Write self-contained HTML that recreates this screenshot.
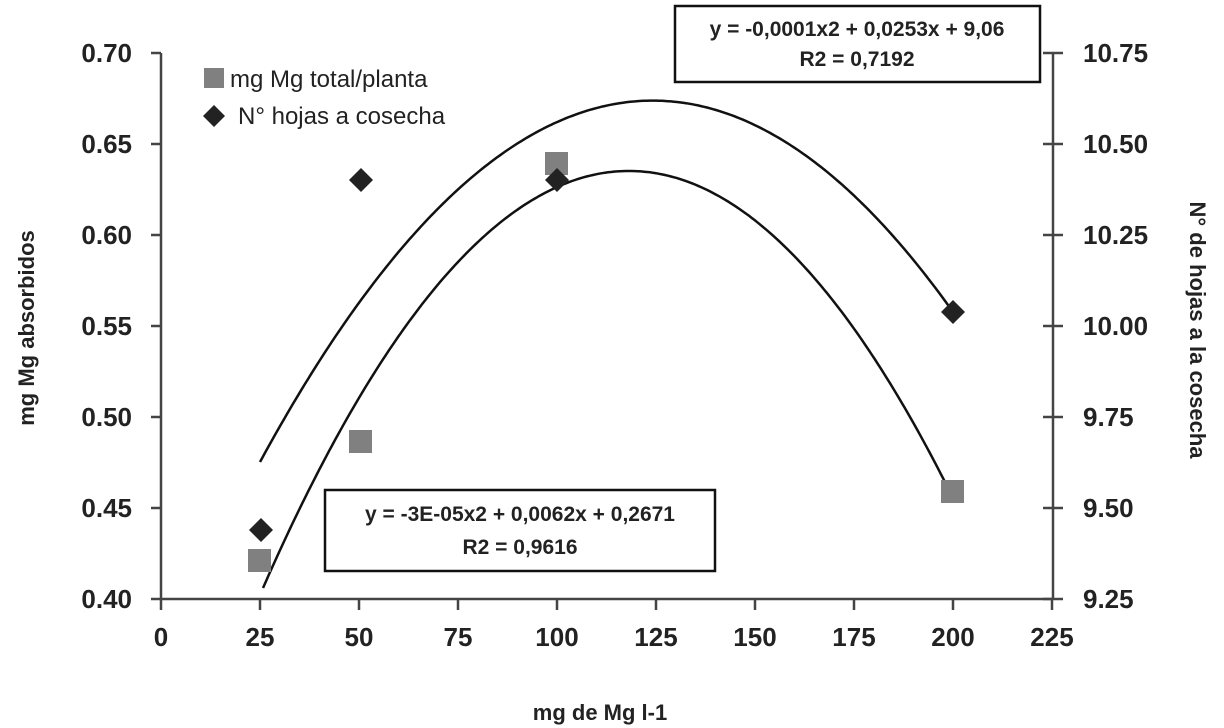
<!DOCTYPE html>
<html><head><meta charset="utf-8"><style>
body{margin:0;background:#fff;}
svg{display:block;font-family:"Liberation Sans",sans-serif;font-weight:bold;}
</style></head><body>
<svg id="s" width="1224" height="728" viewBox="0 0 1224 728">
<g stroke="#444" stroke-width="2.5" fill="none">
<line x1="161" y1="53" x2="161" y2="600"/>
<line x1="160" y1="599" x2="1053" y2="599"/>
<line x1="1053" y1="53" x2="1053" y2="600"/>
</g>
<g id="ticks" stroke="#444" stroke-width="2.5"></g>
<g id="labels" font-size="26" fill="#222"></g>
<path id="c1" fill="none" stroke="#111" stroke-width="2.5"/>
<path id="c2" fill="none" stroke="#111" stroke-width="2.5"/>
<g fill="#808080">
<rect x="248" y="549" width="23" height="23"/>
<rect x="349" y="430" width="23" height="23"/>
<rect x="545" y="152" width="23" height="23"/>
<rect x="941" y="480" width="23" height="23"/>
<rect x="204" y="68" width="20" height="20"/>
</g>
<g fill="#222">
<polygon points="261,518 273,530 261,542 249,530"/>
<polygon points="361,168 373,180 361,192 349,180"/>
<polygon points="557,168 569,180 557,192 545,180"/>
<polygon points="953,300 965,312 953,324 941,312"/>
<polygon points="214,105 225,116 214,127 203,116"/>
</g>
<text x="230" y="87" font-size="24" font-weight="normal" fill="#222">mg Mg total/planta</text>
<text x="238" y="124" font-size="24" font-weight="normal" fill="#222">N° hojas a cosecha</text>
<rect x="675" y="6" width="365" height="76" fill="#fff" stroke="#111" stroke-width="2.5"/>
<text x="857" y="36" font-size="21" text-anchor="middle" fill="#222">y = -0,0001x2 + 0,0253x + 9,06</text>
<text x="857" y="66" font-size="21" text-anchor="middle" fill="#222">R2 = 0,7192</text>
<rect x="325" y="490" width="390" height="81" fill="#fff" stroke="#111" stroke-width="2.5"/>
<text x="520" y="521" font-size="21" text-anchor="middle" fill="#222">y = -3E-05x2 + 0,0062x + 0,2671</text>
<text x="520" y="554" font-size="21" text-anchor="middle" fill="#222">R2 = 0,9616</text>
<text x="600" y="720" font-size="22" text-anchor="middle" fill="#222">mg de Mg l-1</text>
<text transform="translate(34,328) rotate(-90)" font-size="22" text-anchor="middle" fill="#222">mg Mg absorbidos</text>
<text transform="translate(1190,330) rotate(90)" font-size="22" text-anchor="middle" fill="#222">N° de hojas a la cosecha</text>
</svg>
<script>
var ns="http://www.w3.org/2000/svg",t=document.getElementById('ticks'),L=document.getElementById('labels');
function ln(a,b,c,d){var e=document.createElementNS(ns,'line');e.setAttribute('x1',a);e.setAttribute('y1',b);e.setAttribute('x2',c);e.setAttribute('y2',d);t.appendChild(e);}
function tx(x,y,s,an){var e=document.createElementNS(ns,'text');e.setAttribute('x',x);e.setAttribute('y',y);e.setAttribute('text-anchor',an);e.textContent=s;L.appendChild(e);}
var lv=['0.70','0.65','0.60','0.55','0.50','0.45','0.40'],rv=['10.75','10.50','10.25','10.00','9.75','9.50','9.25'];
for(var i=0;i<7;i++){var y=53+i*91;ln(151,y,161,y);ln(1043,y,1063,y);tx(132,y+9,lv[i],'end');tx(1083,y+9,rv[i],'start');}
for(var i=0;i<=9;i++){var x=161+i*99;ln(x,599,x,610);tx(x,646,String(i*25),'middle');}
function fit(p,x0,x1,id){var A=p[0],B=p[1],C=p[2];
function f(x){return A[1]*(x-B[0])*(x-C[0])/((A[0]-B[0])*(A[0]-C[0]))+B[1]*(x-A[0])*(x-C[0])/((B[0]-A[0])*(B[0]-C[0]))+C[1]*(x-A[0])*(x-B[0])/((C[0]-A[0])*(C[0]-B[0]));}
var d='';for(var x=x0;x<=x1;x+=3){d+=(d?'L':'M')+x+','+f(x).toFixed(1);}document.getElementById(id).setAttribute('d',d);}
fit([[260,462],[640,101],[953,312]],260,953,'c1');
fit([[263,588],[625,171],[950,492]],263,950,'c2');
</script>
</body></html>
